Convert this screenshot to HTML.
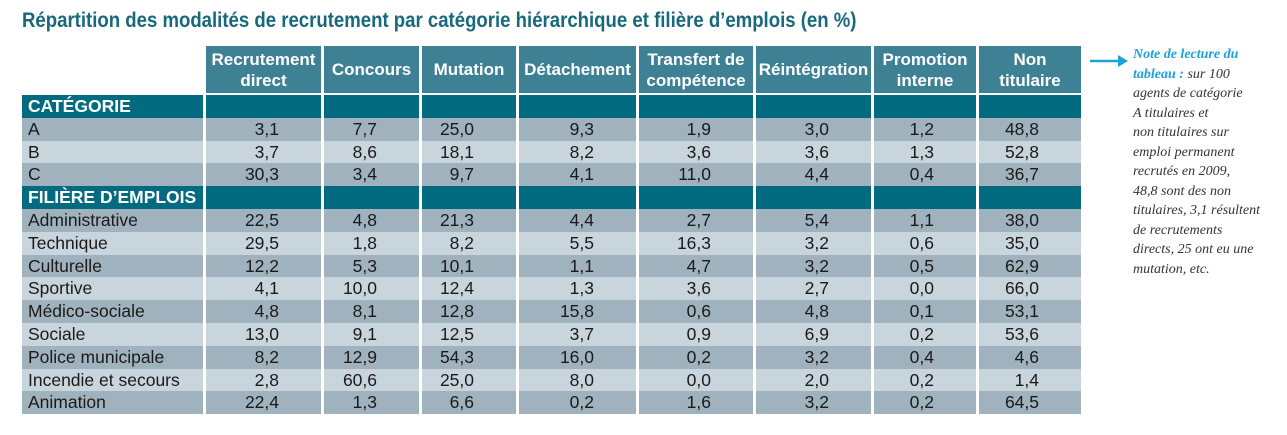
<!DOCTYPE html>
<html><head><meta charset="utf-8"><style>
body{margin:0;width:1287px;height:435px;background:#fff;position:relative;overflow:hidden;font-family:"Liberation Sans Narrow","Liberation Sans",sans-serif;}
.title{position:absolute;left:22px;top:9px;font-size:21px;font-weight:bold;color:#17697b;white-space:nowrap;transform:scaleX(0.885);transform-origin:0 0}
.grid{position:absolute;left:22px;top:46px;display:grid;grid-template-columns:181px 115px 95px 94px 117px 114px 115px 102px 102px;grid-template-rows:49px repeat(14,22.8px);column-gap:3px;}
.grid div{font-size:17.5px;color:#1a1a1a;line-height:22.8px;white-space:nowrap}
.h{background:#3f8194;color:#fff!important;font-weight:bold;text-align:center;line-height:21px!important;display:flex;align-items:center;justify-content:center;font-size:17px!important;margin-bottom:2px}
.s{background:#036b80;color:#fff!important;font-weight:bold;padding-left:6px}
.o{background:#9fb2bd}
.e{background:#c9d5dc}
.n{text-align:right;padding-right:42px}
.l{padding-left:6px}
.note{position:absolute;left:1133px;top:45px;font-family:"Liberation Serif","DejaVu Serif",serif;font-style:italic;font-size:14px;line-height:19.5px;color:#333;white-space:nowrap}
.note b{color:#1aa3d6}
.arrow{position:absolute;left:1090px;top:55px}
</style></head><body>
<div class="title">Répartition des modalités de recrutement par catégorie hiérarchique et filière d’emplois (en %)</div>
<svg class="arrow" width="40" height="12"><line x1="0" y1="6" x2="30" y2="6" stroke="#1aa3d6" stroke-width="2.5"/><polygon points="28,0 38,6 28,12" fill="#1aa3d6"/></svg>
<div class="note"><b>Note de lecture du<br>tableau :</b> sur 100<br>agents de catégorie<br>A titulaires et<br>non titulaires sur<br>emploi permanent<br>recrutés en 2009,<br>48,8 sont des non<br>titulaires, 3,1 résultent<br>de recrutements<br>directs, 25 ont eu une<br>mutation, etc.</div>
<div class="grid" id="g">
<div></div><div class="h">Recrutement<br>direct</div><div class="h">Concours</div><div class="h">Mutation</div><div class="h">Détachement</div><div class="h">Transfert de<br>compétence</div><div class="h">Réintégration</div><div class="h">Promotion<br>interne</div><div class="h">Non<br>titulaire</div>
<div class="s">CATÉGORIE</div><div class="s"></div><div class="s"></div><div class="s"></div><div class="s"></div><div class="s"></div><div class="s"></div><div class="s"></div><div class="s"></div>
<div class="o l">A</div><div class="o n">3,1</div><div class="o n">7,7</div><div class="o n">25,0</div><div class="o n">9,3</div><div class="o n">1,9</div><div class="o n">3,0</div><div class="o n">1,2</div><div class="o n">48,8</div>
<div class="e l">B</div><div class="e n">3,7</div><div class="e n">8,6</div><div class="e n">18,1</div><div class="e n">8,2</div><div class="e n">3,6</div><div class="e n">3,6</div><div class="e n">1,3</div><div class="e n">52,8</div>
<div class="o l">C</div><div class="o n">30,3</div><div class="o n">3,4</div><div class="o n">9,7</div><div class="o n">4,1</div><div class="o n">11,0</div><div class="o n">4,4</div><div class="o n">0,4</div><div class="o n">36,7</div>
<div class="s">FILIÈRE D’EMPLOIS</div><div class="s"></div><div class="s"></div><div class="s"></div><div class="s"></div><div class="s"></div><div class="s"></div><div class="s"></div><div class="s"></div>
<div class="o l">Administrative</div><div class="o n">22,5</div><div class="o n">4,8</div><div class="o n">21,3</div><div class="o n">4,4</div><div class="o n">2,7</div><div class="o n">5,4</div><div class="o n">1,1</div><div class="o n">38,0</div>
<div class="e l">Technique</div><div class="e n">29,5</div><div class="e n">1,8</div><div class="e n">8,2</div><div class="e n">5,5</div><div class="e n">16,3</div><div class="e n">3,2</div><div class="e n">0,6</div><div class="e n">35,0</div>
<div class="o l">Culturelle</div><div class="o n">12,2</div><div class="o n">5,3</div><div class="o n">10,1</div><div class="o n">1,1</div><div class="o n">4,7</div><div class="o n">3,2</div><div class="o n">0,5</div><div class="o n">62,9</div>
<div class="e l">Sportive</div><div class="e n">4,1</div><div class="e n">10,0</div><div class="e n">12,4</div><div class="e n">1,3</div><div class="e n">3,6</div><div class="e n">2,7</div><div class="e n">0,0</div><div class="e n">66,0</div>
<div class="o l">Médico-sociale</div><div class="o n">4,8</div><div class="o n">8,1</div><div class="o n">12,8</div><div class="o n">15,8</div><div class="o n">0,6</div><div class="o n">4,8</div><div class="o n">0,1</div><div class="o n">53,1</div>
<div class="e l">Sociale</div><div class="e n">13,0</div><div class="e n">9,1</div><div class="e n">12,5</div><div class="e n">3,7</div><div class="e n">0,9</div><div class="e n">6,9</div><div class="e n">0,2</div><div class="e n">53,6</div>
<div class="o l">Police municipale</div><div class="o n">8,2</div><div class="o n">12,9</div><div class="o n">54,3</div><div class="o n">16,0</div><div class="o n">0,2</div><div class="o n">3,2</div><div class="o n">0,4</div><div class="o n">4,6</div>
<div class="e l">Incendie et secours</div><div class="e n">2,8</div><div class="e n">60,6</div><div class="e n">25,0</div><div class="e n">8,0</div><div class="e n">0,0</div><div class="e n">2,0</div><div class="e n">0,2</div><div class="e n">1,4</div>
<div class="o l">Animation</div><div class="o n">22,4</div><div class="o n">1,3</div><div class="o n">6,6</div><div class="o n">0,2</div><div class="o n">1,6</div><div class="o n">3,2</div><div class="o n">0,2</div><div class="o n">64,5</div>
</div>
</body></html>
